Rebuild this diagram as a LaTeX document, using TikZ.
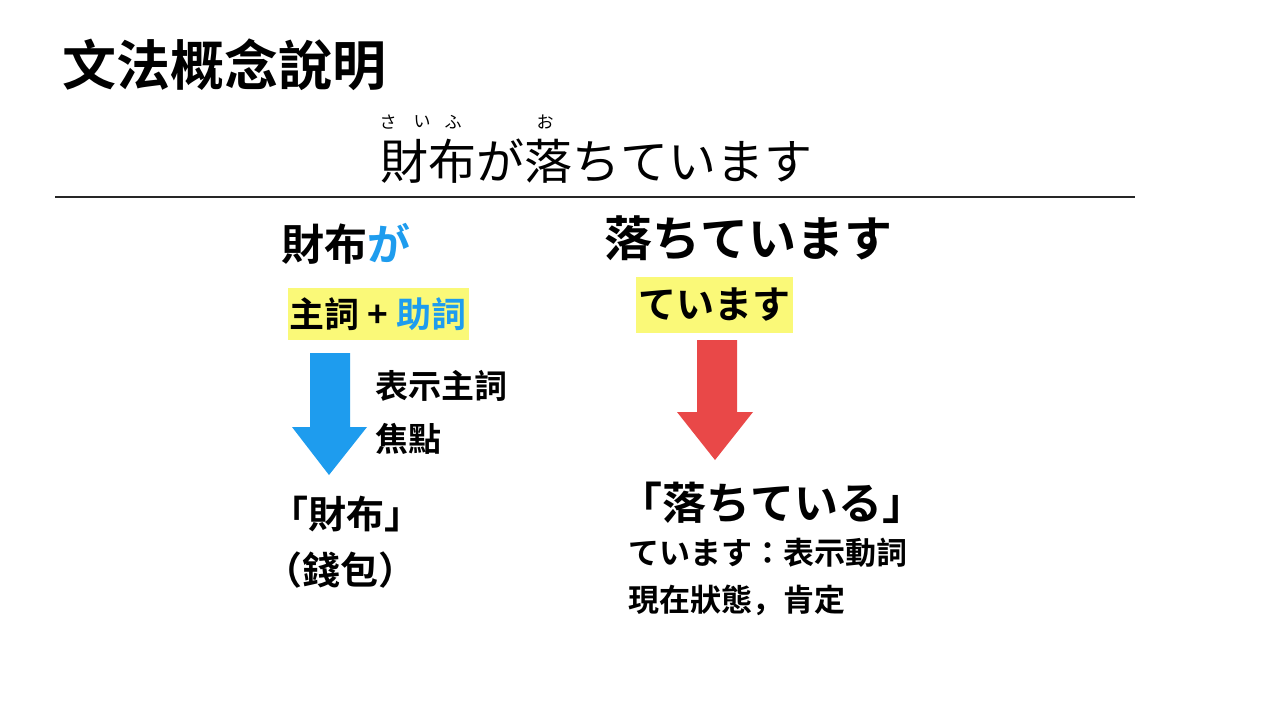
\documentclass[tikz,border=0pt]{standalone}
\usepackage{fontspec}
\setmainfont{Noto Sans CJK TC}[BoldFont={Noto Sans CJK TC Bold}]
\newfontfamily\jpfont{Noto Sans CJK JP}[BoldFont={Noto Sans CJK JP Bold}]
\definecolor{hlyellow}{RGB}{250,249,120}
\definecolor{particleblue}{RGB}{30,156,238}
\definecolor{arrowred}{RGB}{233,72,72}

\begin{document}
\begin{tikzpicture}[x=0.5pt,y=-0.5pt,
    txt/.style={inner sep=0pt, anchor=west, font=\fontsize{#1}{#1}\selectfont\bfseries},
    hlbox/.style={fill=hlyellow, inner sep=0pt, font=\fontsize{#1}{#1}\selectfont\bfseries},
    ruby/.style={inner sep=0pt, font=\jpfont\fontsize{8.5}{8.5}\selectfont}]
    \useasboundingbox[fill=white] (0,0) rectangle (1280,720);
    % heading
    \node[txt=27] (title) at (62,65) {文法概念說明};
    % example sentence with readings
    \node[inner sep=0pt, font=\jpfont\fontsize{24}{24}\selectfont] (sentence) at (596,161) {財布が落ちています};
    \node[ruby] (rubysa) at (388,122) {さ};
    \node[ruby] (rubyi) at (422,122) {い};
    \node[ruby] (rubyfu) at (453,122) {ふ};
    \node[ruby] (rubyo) at (545,122) {お};
    \draw[line width=1pt, black!85] (55,197) -- (1135,197);
    % left column
    \node[txt=21.5] (saifuga) at (281,244) {財布\textcolor{particleblue}{が}};
    \node[hlbox=17.5, minimum width=90.5pt, minimum height=26pt] (subjbox) at (378,314) {主詞 + \textcolor{particleblue}{助詞}};
    \fill[particleblue] (310,353) -- (350,353) -- (350,427) -- (367,427) -- (329,475) -- (292,427) -- (310,427) -- cycle;
    \node[txt=16.5] (focus1) at (375,386) {表示主詞};
    \node[txt=16.5] (focus2) at (375,439) {焦點};
    \node[inner sep=0pt, font=\fontsize{19}{19}\selectfont\bfseries] (wallet) at (346,514) {「財布」};
    \node[inner sep=0pt, font=\fontsize{19}{19}\selectfont\bfseries] (qianbao) at (340,570) {（錢包）};
    % right column
    \node[txt=24] (ochite) at (604,238) {落ちています};
    \node[hlbox=19, minimum width=78.5pt, minimum height=28pt] (teimasu) at (714,305) {ています};
    \fill[arrowred] (697,340) -- (737,340) -- (737,412) -- (753,412) -- (715,460) -- (677,412) -- (697,412) -- cycle;
    \node[inner sep=0pt, font=\fontsize{22}{22}\selectfont\bfseries] (ochiteiru) at (772,503) {「落ちている」};
    \node[txt=15.5] (note1) at (628,553) {ています：表示動詞};
    \node[txt=15.5, font=\jpfont\fontsize{15.5}{15.5}\selectfont\bfseries] (note2) at (628,600) {現在狀態，肯定};
\end{tikzpicture}
\end{document}
